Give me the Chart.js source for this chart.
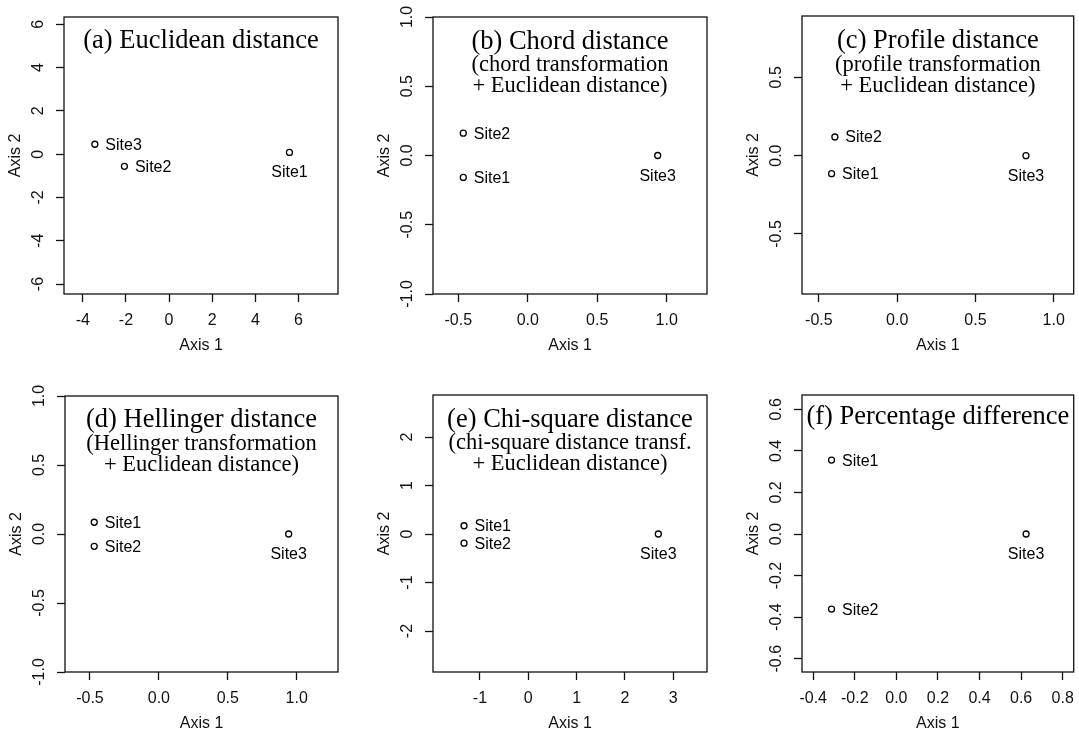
<!DOCTYPE html>
<html>
<head>
<meta charset="utf-8">
<script src="https://cdn.jsdelivr.net/npm/chart.js@4.4.1/dist/chart.umd.min.js"></script>
<style>
  html, body { margin: 0; padding: 0; background: #fff; }
  #wrap { position: relative; width: 1079px; height: 733px; overflow: hidden; }
  #wrap canvas { position: absolute; }
</style>
</head>
<body>
<div id="wrap"></div>
<script>
const siteNames = ['Site1', 'Site2', 'Site3'];

// site scores on axes 1 and 2
const euclidX = [5.58, -2.07, -3.44];
const euclidY = [0.08, -0.56, 0.46];
const chordX = [-0.464, -0.464, 0.935];
const chordY = [-0.158, 0.161, 0];
const profileX = [-0.419, -0.398, 0.823];
const profileY = [-0.115, 0.119, 0];
const hellX = [-0.469, -0.469, 0.942];
const hellY = [0.085, -0.089, 0];
const chisqX = [-1.33, -1.33, 2.69];
const chisqY = [0.17, -0.19, 0];
const pctX = [-0.312, -0.312, 0.624];
const pctY = [0.356, -0.361, 0];

const titles = ['(a) Euclidean distance', '(b) Chord distance', '(c) Profile distance',
  '(d) Hellinger distance', '(e) Chi-square distance', '(f) Percentage difference'];
const subtitles = [
  [],
  ['(chord transformation', '+ Euclidean distance)'],
  ['(profile transformation', '+ Euclidean distance)'],
  ['(Hellinger transformation', '+ Euclidean distance)'],
  ['(chi-square distance transf.', '+ Euclidean distance)'],
  []
];

// axis limits and tick steps
const xLimits = [[-4.87, 7.83], [-0.682, 1.29], [-0.608, 1.128], [-0.681, 1.3], [-1.972, 3.697], [-0.454, 0.853]];
const yLimits = [[-6.46, 6.34], [-1, 1], [-0.883, 0.891], [-1, 1], [-2.845, 2.866], [-0.664, 0.669]];
const xSteps = [2, 0.5, 0.5, 0.5, 1, 0.2];
const ySteps = [2, 0.5, 0.5, 0.5, 1, 0.2];
const tickDecimals = [0, 1, 1, 1, 0, 1];

const allX = [euclidX, chordX, profileX, hellX, chisqX, pctX];
const allY = [euclidY, chordY, profileY, hellY, chisqY, pctY];

// where each site label sits relative to its point
const labelPos = [
  ['below', 'right', 'right'],
  ['right', 'right', 'below'],
  ['right', 'right', 'below'],
  ['right', 'right', 'below'],
  ['right', 'right', 'below'],
  ['right', 'right', 'below']
];

// page layout: cell of each canvas and plot box inside it
const panels = [
  { cell: [0, 0, 360, 366], box: [64, 17, 338, 294], titleOff: 31 },
  { cell: [360, 0, 359, 366], box: [433, 17, 707, 294], titleOff: 31.5 },
  { cell: [719, 0, 360, 366], box: [802, 16, 1074, 294], titleOff: 32 },
  { cell: [0, 366, 360, 367], box: [65, 396, 338, 672], titleOff: 31 },
  { cell: [360, 366, 359, 367], box: [433, 395, 707, 672], titleOff: 31.5 },
  { cell: [719, 366, 360, 367], box: [802, 395, 1074, 672], titleOff: 28.5 }
];

const sans = '"Liberation Sans", Arial, Helvetica, sans-serif';
const serif = '"Liberation Serif", "Times New Roman", Times, serif';
const tickLen = 8;
const fontSize = 16;
const yLabelGap = 25;

const measureCtx = document.createElement('canvas').getContext('2d');
measureCtx.font = fontSize + 'px ' + sans;

function tickLabels(lim, step, dec) {
  let out = [];
  for (let v = Math.ceil(lim[0] / step - 1e-9) * step; v <= lim[1] + 1e-9; v += step) {
    out.push(v.toFixed(dec));
  }
  return out;
}

const framePlugin = {
  id: 'frame',
  afterDatasetsDraw(chart) {
    const a = chart.chartArea;
    const ctx = chart.ctx;
    ctx.save();
    ctx.strokeStyle = '#111';
    ctx.lineWidth = 1.3;
    ctx.strokeRect(a.left, a.top, a.right - a.left, a.bottom - a.top);
    ctx.restore();
  }
};

const textPlugin = {
  id: 'panelText',
  afterDatasetsDraw(chart, args, opts) {
    const ctx = chart.ctx;
    const a = chart.chartArea;
    const xs = chart.scales.x, ys = chart.scales.y;
    ctx.save();
    ctx.fillStyle = '#000';
    ctx.textBaseline = 'alphabetic';
    // site names
    ctx.font = fontSize + 'px ' + sans;
    opts.xv.forEach((xv, k) => {
      const px = xs.getPixelForValue(xv);
      const py = ys.getPixelForValue(opts.yv[k]);
      if (opts.pos[k] === 'below') {
        ctx.textAlign = 'center';
        ctx.fillText(siteNames[k], px, py + 25);
      } else {
        ctx.textAlign = 'left';
        ctx.fillText(siteNames[k], px + 10.5, py + 5.5);
      }
    });
    // panel title inside the box
    const cx = (a.left + a.right) / 2;
    ctx.textAlign = 'center';
    ctx.font = '26.5px ' + serif;
    ctx.fillText(opts.title, cx, a.top + opts.titleOff);
    ctx.font = '22.5px ' + serif;
    opts.subs.forEach((s, k) => {
      ctx.fillText(s, cx, a.top + opts.titleOff + 22.5 + k * 21);
    });
    ctx.restore();
  }
};

const wrap = document.getElementById('wrap');

panels.forEach((p, i) => {
  const [cx, cy, cw, ch] = p.cell;
  const [bl, bt, br, bb] = p.box;
  const canvas = document.createElement('canvas');
  canvas.width = cw;
  canvas.height = ch;
  canvas.style.left = cx + 'px';
  canvas.style.top = cy + 'px';
  canvas.style.width = cw + 'px';
  canvas.style.height = ch + 'px';
  wrap.appendChild(canvas);

  const dec = tickDecimals[i];
  const yLabs = tickLabels(yLimits[i], ySteps[i], dec);
  let widest = 0;
  yLabs.forEach(l => { widest = Math.max(widest, measureCtx.measureText(l).width); });
  const yPad = yLabelGap - tickLen - widest / 2;

  const points = allX[i].map((x, k) => ({ x: x, y: allY[i][k] }));
  const zeroPad = s => { s.paddingLeft = 0; s.paddingRight = 0; s.paddingTop = 0; s.paddingBottom = 0; };

  new Chart(canvas, {
    type: 'scatter',
    data: {
      datasets: [{
        data: points,
        pointRadius: 3,
        pointBorderWidth: 1.3,
        pointBorderColor: '#000',
        pointBackgroundColor: 'rgba(0,0,0,0)',
        showLine: false
      }]
    },
    options: {
      responsive: false,
      animation: false,
      events: [],
      layout: { padding: { left: 0, top: bt - cy, right: cx + cw - br, bottom: 0 } },
      plugins: {
        legend: { display: false },
        tooltip: { enabled: false },
        panelText: {
          xv: allX[i], yv: allY[i], pos: labelPos[i],
          title: titles[i], subs: subtitles[i], titleOff: p.titleOff
        }
      },
      scales: {
        x: {
          type: 'linear',
          position: 'bottom',
          min: xLimits[i][0],
          max: xLimits[i][1],
          border: { display: false },
          grid: { drawOnChartArea: false, drawTicks: true, tickLength: tickLen, tickWidth: 1.3, tickColor: '#111' },
          ticks: {
            stepSize: xSteps[i],
            includeBounds: false,
            autoSkip: false,
            minRotation: 0,
            maxRotation: 0,
            padding: 11,
            color: '#111',
            font: { family: sans, size: fontSize, lineHeight: 1 },
            callback: v => Number(v).toFixed(dec)
          },
          title: {
            display: true,
            text: 'Axis 1',
            color: '#111',
            font: { family: sans, size: fontSize, lineHeight: 1 },
            padding: { top: 0, bottom: ch - (bb - cy + 52) - 8 }
          },
          afterFit: s => { s.height = ch - (bb - cy); zeroPad(s); }
        },
        y: {
          type: 'linear',
          position: 'left',
          min: yLimits[i][0],
          max: yLimits[i][1],
          border: { display: false },
          grid: { drawOnChartArea: false, drawTicks: true, tickLength: tickLen, tickWidth: 1.3, tickColor: '#111' },
          ticks: {
            stepSize: ySteps[i],
            includeBounds: false,
            autoSkip: false,
            minRotation: 90,
            maxRotation: 90,
            crossAlign: 'center',
            padding: yPad,
            color: '#111',
            font: { family: sans, size: fontSize, lineHeight: 1 },
            callback: v => Number(v).toFixed(dec)
          },
          title: {
            display: true,
            text: 'Axis 2',
            color: '#111',
            font: { family: sans, size: fontSize, lineHeight: 1 },
            padding: { top: (bl - cx - 48.5) - 8, bottom: 0 }
          },
          afterFit: s => { s.width = bl - cx; zeroPad(s); }
        }
      }
    },
    plugins: [framePlugin, textPlugin]
  });
});
</script>
</body>
</html>
